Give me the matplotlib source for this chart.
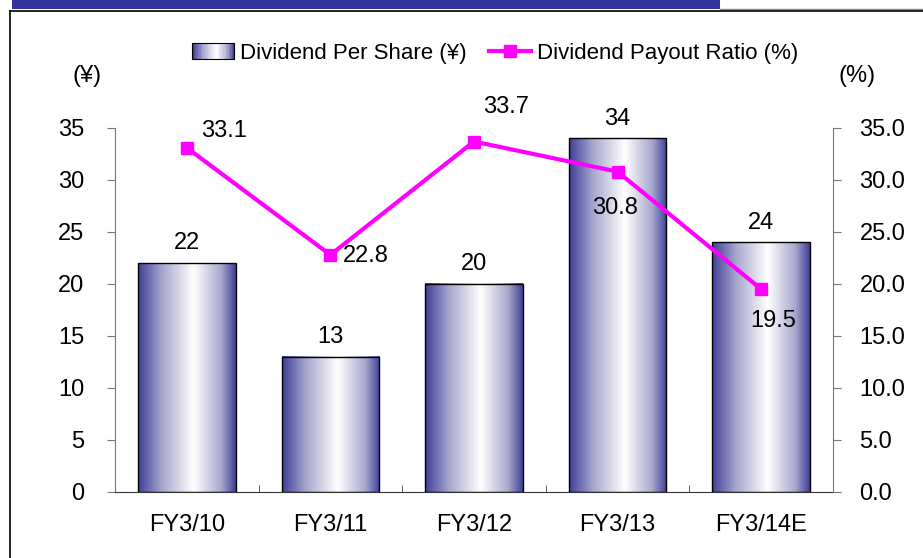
import numpy as np
import matplotlib
matplotlib.use("Agg")
import matplotlib.pyplot as plt
from matplotlib.colors import LinearSegmentedColormap
from matplotlib.patches import Rectangle
from matplotlib.lines import Line2D
from matplotlib.legend_handler import HandlerBase

plt.rcParams['font.family'] = ['Liberation Sans', 'DejaVu Sans']

categories = ['FY3/10', 'FY3/11', 'FY3/12', 'FY3/13', 'FY3/14E']
dps = [22, 13, 20, 34, 24]
payout = [33.1, 22.8, 33.7, 30.8, 19.5]

FS = 17

# gradient: dark blue edges, white near middle
grad_cmap = LinearSegmentedColormap.from_list(
    'bar', [(0.0, '#3f3f98'), (0.25, '#a8a8ce'), (0.57, '#ffffff'), (0.85, '#a8a8ce'), (1.0, '#3f3f98')])


class GradHandler(HandlerBase):
    def create_artists(self, legend, orig_handle, xdescent, ydescent, width, height, fontsize, trans):
        n = 30
        arts = []
        for i in range(n):
            r = Rectangle((xdescent + width * i / n, -ydescent), width / n + 0.3, height,
                          facecolor=grad_cmap(i / (n - 1)), edgecolor='none', transform=trans)
            arts.append(r)
        arts.append(Rectangle((xdescent, -ydescent), width, height, facecolor='none',
                              edgecolor='black', lw=0.8, transform=trans))
        return arts


fig = plt.figure(figsize=(9.23, 5.58), dpi=100)

# header bar and frame
fig.patches.append(Rectangle((12 / 923, 1 - 9 / 558), 708 / 923, 9 / 558, transform=fig.transFigure,
                             facecolor='#333399', edgecolor='none'))
fig.lines.append(Line2D([720 / 923, 1], [1 - 9 / 558] * 2, transform=fig.transFigure, color='#888888', lw=1))
fig.lines.append(Line2D([10 / 923, 1], [1 - 11 / 558] * 2, transform=fig.transFigure, color='black', lw=1.2))
fig.lines.append(Line2D([10 / 923, 10 / 923], [0, 1 - 11 / 558], transform=fig.transFigure, color='black', lw=1.2))

ax = fig.add_axes([115 / 923, 1 - 492 / 558, 718 / 923, 364 / 558])
x = np.arange(len(categories))
bw = 0.68
for xi, v in zip(x, dps):
    ax.imshow(np.linspace(0, 1, 256).reshape(1, -1), cmap=grad_cmap, aspect='auto',
              extent=[xi - bw / 2, xi + bw / 2, 0, v], zorder=2)
    ax.add_patch(Rectangle((xi - bw / 2, 0), bw, v, facecolor='none', edgecolor='black', lw=1, zorder=3))
    ax.text(xi, v + 1.9, str(v), ha='center', va='center', fontsize=FS)

ax.set_xlim(-0.5, len(categories) - 0.5)
ax.set_ylim(0, 35)
ax.set_yticks(range(0, 36, 5))
ax.set_xticks(x)
ax.set_xticklabels(categories, fontsize=FS)
ax.set_xticks(np.arange(0.5, len(categories) - 1, 1), minor=True)
ax.tick_params(axis='x', which='major', length=0, pad=16)
ax.tick_params(axis='x', which='minor', length=5, direction='in', color='#444444')
ax.tick_params(axis='y', labelsize=FS, length=6, color='#777777', pad=16)
for s in ['top', 'right']:
    ax.spines[s].set_visible(False)
ax.spines['left'].set_color('#777777')
ax.spines['bottom'].set_color('#333333')

ax2 = ax.twinx()
ax2.set_ylim(0, 35)
ax2.set_yticks(range(0, 36, 5))
ax2.set_yticklabels([f'{t:.1f}' for t in range(0, 36, 5)])
ax2.tick_params(axis='y', labelsize=FS, length=6, color='#777777', pad=13)
for s in ['top', 'left', 'bottom']:
    ax2.spines[s].set_visible(False)
ax2.spines['right'].set_color('#777777')
line, = ax2.plot(x, payout, color='#ff00ff', lw=3, marker='s', markersize=9, zorder=5)

# label offsets (dx in categories, dy in axis units)
offsets = [(0.26, 1.6), (0.25, -0.1), (0.22, 3.3), (-0.02, -3.5), (0.08, -3.1)]
for xi, v, (dx, dy) in zip(x, payout, offsets):
    ax2.text(xi + dx, v + dy, f'{v:.1f}', ha='center', va='center', fontsize=FS)

fig.text(87 / 923, 1 - 76 / 558, '(¥)', ha='center', va='center', fontsize=FS)
fig.text(857 / 923, 1 - 76 / 558, '(%)', ha='center', va='center', fontsize=FS)

bar_handle = Rectangle((0, 0), 1, 1)
fig.legend([bar_handle, line], ['Dividend Per Share (¥)', 'Dividend Payout Ratio (%)'],
           handler_map={Rectangle: GradHandler()}, loc='center', bbox_to_anchor=(495 / 923, 1 - 53 / 558),
           ncol=2, frameon=False, fontsize=16, handlelength=1.9, handletextpad=0.25, columnspacing=1.0)

fig.savefig('out.png', dpi=100)
